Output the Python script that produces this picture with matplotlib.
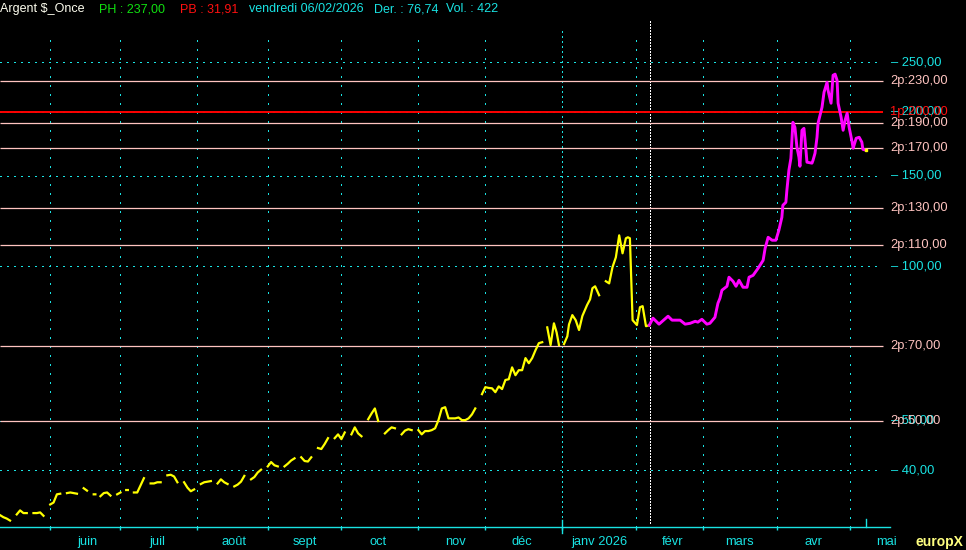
import numpy as np
import pandas as pd
import matplotlib
matplotlib.use("Agg")
import matplotlib.pyplot as plt
from matplotlib.ticker import NullLocator

nan = np.nan

# jours de bourse comptés depuis le lundi 12/05/2025 ; nan = trou dans le tracé
hist_days = [0, 1, 2, 3, nan,
             5, 6, 7, 8, nan,
             10, 11, 12, 13, nan,
             15, 16, 17, 18, nan,
             20, 21, 22, 23, nan,
             25, 26, nan,
             28, 28.5, nan,
             30, 31, 32, 33, nan,
             35, 36, nan,
             37.7, 38.2, nan,
             40, 41, 42, 43, nan,
             45, 46, 47, 48, nan,
             50, 51, 52, 53, nan,
             55, 56, 57, 58, nan,
             60, 61, 62, 63, nan,
             65, 66, 67, 68, nan,
             70, 71, 72, 73, nan,
             75, 76, 77, 78, nan,
             80, 81, 82, 83, nan,
             85, 86, 87, 88, nan,
             90, 91, 92, 93, nan,
             95, 96, 97, 98, nan,
             100, 101, 102, 103, nan,
             105, 106, 107, 108, nan,
             110, 111, 112, 113, nan,
             115, 116, 117, 118, nan,
             120, 121, 122, 123, nan,
             125, 126, 127, 128, 129, 130, 131, 132, 133, 134, 135, 136, 137, 138,
             139, 140, 141, 142, nan,
             144, 145, 146, 147, 148, 149, 150, 151, 152, 153, 154, 155, 156, 157,
             158, 159, 160, 161, 162, nan,
             163.5, 164.5, 165.5, 166.3, 167, nan,
             168.5, 169.5, 170, 171, 172, 173, 174, 175.4, 176.3, 177, 177.8, 179, nan,
             181, 182, 183, 184, 185, 186, 187, 187.6, 188.2, 189, 190.3, 191.2, 192,
             193, 194]
hist_prices = [32.7, 32.4, 32.2, 31.91, nan,
               32.8, 33.4, 33.0, 33.0, nan,
               33.0, 33.0, 33.1, 32.6, nan,
               34.3, 34.6, 35.9, 36.0, nan,
               36.1, 36.2, 36.1, 36.0, nan,
               36.9, 36.5, nan,
               35.9, 35.9, nan,
               35.6, 36.1, 36.2, 35.7, nan,
               35.9, 36.2, nan,
               36.6, 36.6, nan,
               36.2, 36.2, 37.4, 38.6, nan,
               37.7, 37.7, 37.9, 37.9, nan,
               39.1, 39.2, 38.9, 37.9, nan,
               37.9, 37.0, 36.4, 36.7, nan,
               37.6, 37.9, 38.0, 38.1, nan,
               37.7, 38.4, 37.9, 37.6, nan,
               37.2, 37.5, 38.0, 39.0, nan,
               38.4, 38.8, 39.6, 40.1, nan,
               40.7, 41.5, 40.9, 40.7, nan,
               40.7, 41.2, 41.8, 42.2, nan,
               42.4, 41.7, 41.6, 42.4, nan,
               44.2, 44.0, 45.0, 46.2, nan,
               46.2, 47.0, 46.0, 47.4, nan,
               47.0, 48.5, 47.2, 46.6, nan,
               50.3, 51.6, 52.8, 49.9, nan,
               47.2, 47.9, 48.5, 48.3, nan,
               47.0, 47.8, 48.1, 47.9, nan,
               47.9, 47.0, 47.7, 47.7, 47.9, 48.3, 50.1, 52.8, 53.1, 50.5, 50.5, 50.5,
               50.7, 50.1, 50.1, 50.5, 51.4, 52.8, nan,
               56.3, 58.1, 57.9, 57.8, 56.8, 58.3, 57.6, 60.0, 60.2, 63.5, 61.3, 62.7,
               62.7, 66.2, 64.7, 66.2, 68.6, 70.8, 71.1, nan,
               76.0, 70.2, 77.4, 74.3, 70.2, nan,
               70.5, 73.0, 77.0, 80.3, 78.5, 75.1, 80.0, 84.0, 86.2, 90.6, 91.4, 87.8, nan,
               93.5, 92.6, 99.6, 104.1, 114.9, 106.0, 113.4, 113.9, 113.4, 78.5, 76.8,
               83.2, 83.6, 76.4, 76.74]

# projection (magenta) à partir du 06/02/2026
proj_days = [194, 195.1, 196.9, 199.6, 200.8, 203.2, 204.7, 206.2, 207.7, 208.5,
             209.7, 211.2, 212.1, 213.6, 214.5, 215.1, 215.7, 217.2, 217.8, 219,
             219.9, 220.8, 222, 223.2, 223.8, 225, 226.5, 228, 228.6, 229.5,
             230.7, 231.8, 232.7, 233.6, 233.9, 234.8, 235.1, 235.7, 236.3, 236.9,
             237.5, 238.1, 238.7, 239, 239.6, 240.2, 240.8, 241.1, 242.6, 242.9,
             243.5, 244.1, 244.4, 245.6, 246.2, 247.1, 247.4, 248.3, 248.9, 249.5,
             250.1, 250.4, 251.3, 251.9, 252.5, 253.1, 253.7, 254.6, 254.9, 255.8,
             256.7, 257.5, 257.8, 258.7]
proj_prices = [76.74, 79.2, 77.1, 79.9, 78.5, 78.5, 77.1, 77.4, 78.1, 77.8,
               78.8, 77.1, 77.4, 79.5, 84.7, 86.6, 89.8, 91.4, 95.2, 93.5,
               91.4, 93.9, 91.0, 91.0, 95.2, 96.0, 99.1, 102.7, 108.4, 113.9,
               112.4, 112.4, 117.5, 124.6, 131.5, 133.3, 140.7, 153.9, 162.4, 190.9,
               186.7, 170.7, 163.2, 156.7, 184.2, 185.8, 168.4, 159.6, 158.9, 160.9,
               166.1, 178.5, 190.0, 204.3, 218.5, 228.5, 220.5, 208.0, 235.8, 237.0,
               230.6, 208.0, 195.3, 184.2, 192.7, 198.9, 186.7, 174.6, 169.9, 177.7,
               178.5, 174.6, 169.1, 168.4]

pink_levels = [230, 190, 170, 130, 110, 70, 50]
red_levels = [200]
grid_levels = [250, 200, 150, 100, 50, 40]
month_names = ["juin", "juil", "août", "sept", "oct", "nov", "déc", "janv 2026",
               "févr", "mars", "avr", "mai"]
header_texts = ["Argent $_Once", "PH : 237,00", "PB : 31,91",
                "vendredi 06/02/2026", "Der. : 76,74", "Vol. : 422"]

CYAN = "#19e3e3"
PINK = "#ffc4c0"
PX_DAY = 3.347  # largeur d'un jour de bourse en pixels

plt.rcParams["font.family"] = ["Liberation Sans", "DejaVu Sans"]
plt.rcParams["font.size"] = 9.3


def fr(v):
    return f"{v:.2f}".replace(".", ",")


dates = pd.bdate_range("2025-05-12", periods=270)
month_starts = [i for i in range(1, len(dates)) if dates[i].month != dates[i - 1].month]
today = dates.get_loc(pd.Timestamp("2026-02-06"))

fig = plt.figure(figsize=(9.66, 5.5), dpi=100, facecolor="black")
ax = fig.add_axes([0, 23 / 550, 890 / 966, 497 / 550])
ax.set_facecolor("black")
ax.set_yscale("log")
ax.set_xlim(0, 890 / PX_DAY)
ax.set_ylim(31.0, 289.0)
ax.yaxis.set_major_locator(NullLocator())
ax.yaxis.set_minor_locator(NullLocator())
for s in ["top", "right", "left"]:
    ax.spines[s].set_visible(False)
ax.spines["bottom"].set_color(CYAN)
ax.spines["bottom"].set_linewidth(1.0)
ax.set_xticks(month_starts)
ax.tick_params(axis="x", direction="out", length=2.5, width=1, color=CYAN,
               labelbottom=False)

# grille verticale des mois
for m in month_starts:
    if dates[m].month == 1:
        ax.axvline(m, color=CYAN, lw=1, ls=(0, (0.8, 2.8)), ymax=1.006,
                   clip_on=False, antialiased=False)
        ax.plot([m, m], [-0.013, 0.014], color=CYAN, lw=1,
                transform=ax.get_xaxis_transform(), clip_on=False)
    else:
        ax.axvline(m, color=CYAN, lw=1, ls=(0, (0.8, 5.7)), ymax=0.98,
                   antialiased=False)

# date du jour
ax.axvline(today + 0.2, color="white", lw=0.75, ls=(0, (1.4, 1.4)),
           ymin=0.008, ymax=1.018, clip_on=False, antialiased=False)

# grille horizontale et étiquettes cyan
ytr = ax.get_yaxis_transform()
for v in grid_levels:
    ax.hlines(v, 0, 880 / PX_DAY, color=CYAN, lw=1, ls=(0, (0.8, 4.0)),
              antialiased=False)
    ax.text(1.001, v, "– " + fr(v), color=CYAN, transform=ytr, va="center",
            ha="left", clip_on=False, zorder=3)

# lignes de niveaux
for v in pink_levels:
    ax.hlines(v, 0, 883 / PX_DAY, color=PINK, lw=0.9)
    ax.text(1.0, v, "2p:" + fr(v), color=PINK, transform=ytr, va="center",
            ha="left", clip_on=False, zorder=4)
for v in red_levels:
    ax.hlines(v, 0, 883 / PX_DAY, color="#ff0000", lw=1.4)
    ax.text(1.0, v, "1p:" + fr(v), color="#ff1010", transform=ytr, va="center",
            ha="left", clip_on=False, zorder=4)

# cours
ax.plot(hist_days, hist_prices, color="#ffff00", lw=1.6)
ax.plot(proj_days, proj_prices, color="#ff00ff", lw=2.1)
ax.plot(proj_days[-1], proj_prices[-1], "s", color="#ffff00", ms=2)
ax.plot([proj_days[-1], proj_days[-1]], [0, 0.016], color=CYAN, lw=1,
        transform=ax.get_xaxis_transform(), clip_on=False)

# libellés des mois
xtr = ax.get_xaxis_transform()
for m, name in zip(month_starts, month_names):
    ax.text(m + 11, -0.03, name, color=CYAN, transform=xtr, ha="center",
            va="center", clip_on=False)

# en-tête
header_x = [0, 99, 180, 249, 374, 446]
header_colors = ["#fffff0", "#10e010", "#ff1010", CYAN, CYAN, CYAN]
for t, x, c in zip(header_texts, header_x, header_colors):
    fig.text(x / 966, 1 - 9 / 550, t, color=c, ha="left", va="center", fontsize=9)

fig.text(916 / 966, 8 / 550, "europX", color="#ffff80", fontsize=10,
         fontweight="bold", ha="left", va="center")

fig.savefig("out.png", dpi=100, facecolor="black")
